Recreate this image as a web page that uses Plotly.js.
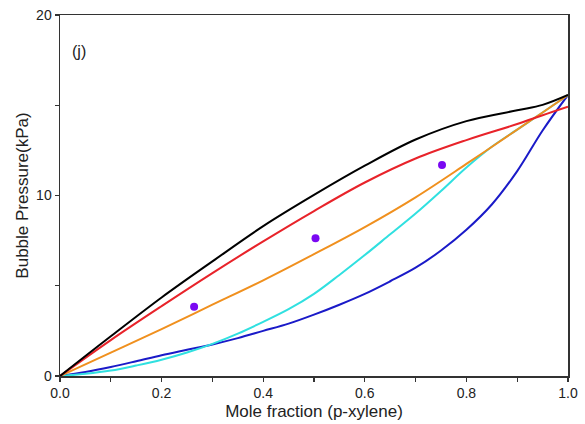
<!DOCTYPE html>
<html>
<head>
<meta charset="utf-8">
<script src="https://cdn.plot.ly/plotly-3.0.1.min.js"></script>
<style>html,body{margin:0;padding:0;background:#fff;}#chart{width:585px;height:424px;}</style>
</head>
<body>
<div id="chart"></div>
<script>
// Model curves (bubble pressure, kPa) vs mole fraction of p-xylene
const xCoarse = [0, 0.1, 0.2, 0.3, 0.4, 0.5, 0.6, 0.7, 0.8, 0.9, 0.95, 1.0];
const blackY  = [0, 2.2, 4.35, 6.35, 8.3, 10.03, 11.65, 13.1, 14.12, 14.72, 15.02, 15.57];
const redY    = [0, 1.99, 3.87, 5.7, 7.46, 9.14, 10.72, 12.05, 13.07, 13.96, 14.45, 14.92];
const orangeY = [0, 1.3, 2.6, 3.95, 5.3, 6.75, 8.25, 9.9, 11.75, 13.65, 14.6, 15.57];

const xFine   = [0, 0.05, 0.1, 0.15, 0.2, 0.25, 0.3, 0.35, 0.4, 0.45, 0.5, 0.55, 0.6, 0.65, 0.7, 0.75, 0.8, 0.85, 0.9, 0.95, 1.0];
const cyanY   = [0, 0.12, 0.3, 0.58, 0.9, 1.3, 1.78, 2.35, 3.0, 3.7, 4.55, 5.6, 6.7, 7.85, 9.0, 10.25, 11.55, 12.7, 13.65, 14.6, 15.57];
const blueY   = [0, 0.22, 0.5, 0.82, 1.15, 1.45, 1.75, 2.1, 2.5, 2.9, 3.4, 3.95, 4.55, 5.25, 6.0, 6.95, 8.1, 9.5, 11.35, 13.6, 15.57];

// Experimental points
const expX = [0.264, 0.503, 0.752];
const expY = [3.84, 7.63, 11.69];

const lineTrace = (x, y, color) => ({
  x: x, y: y, type: 'scatter', mode: 'lines',
  line: {color: color, width: 2, shape: 'spline', smoothing: 1},
  hoverinfo: 'skip', showlegend: false
});

const data = [
  lineTrace(xFine, blueY, '#1a1ac8'),
  lineTrace(xFine, cyanY, '#30e0e0'),
  lineTrace(xCoarse, orangeY, '#f0901e'),
  lineTrace(xCoarse, redY, '#e8232a'),
  lineTrace(xCoarse, blackY, '#000000'),
  {x: expX, y: expY, type: 'scatter', mode: 'markers',
   marker: {color: '#7a08f2', size: 8}, showlegend: false}
];

const font = 'Arial, "Liberation Sans", sans-serif';
const layout = {
  width: 585, height: 424,
  margin: {l: 60, r: 17, t: 15, b: 48},
  paper_bgcolor: '#ffffff', plot_bgcolor: '#ffffff',
  font: {family: font, color: '#222', size: 14},
  showlegend: false,
  xaxis: {
    range: [0, 1.0], showgrid: false, zeroline: false,
    showline: true, linecolor: '#333', linewidth: 1.5, mirror: true,
    ticks: 'outside', ticklen: 4, tickwidth: 1.2, tickcolor: '#333',
    tickvals: [0, 0.2, 0.4, 0.6, 0.8, 1.0],
    ticktext: ['0.0', '0.2', '0.4', '0.6', '0.8', '1.0'],
    minor: {tickvals: [0.1, 0.3, 0.5, 0.7, 0.9], ticks: 'outside', ticklen: 4, tickwidth: 1.2, tickcolor: '#333'},
    tickfont: {size: 14, family: font, color: '#222'},
    title: {text: 'Mole fraction (p-xylene)', font: {size: 17, family: font, color: '#222'}, standoff: 5}
  },
  yaxis: {
    range: [0, 20], showgrid: false, zeroline: false,
    showline: true, linecolor: '#333', linewidth: 1.5, mirror: true,
    ticks: 'outside', ticklen: 4, tickwidth: 1.2, tickcolor: '#333',
    tickvals: [0, 10, 20],
    minor: {tickvals: [5, 15], ticks: 'outside', ticklen: 4, tickwidth: 1.2, tickcolor: '#333'},
    tickfont: {size: 14, family: font, color: '#222'},
    title: {text: 'Bubble Pressure(kPa)', font: {size: 17, family: font, color: '#222'}, standoff: 3}
  },
  annotations: [{
    text: '(j)', xref: 'paper', yref: 'paper', x: 0.037, y: 0.9, xanchor: 'center', yanchor: 'middle',
    showarrow: false, font: {size: 16, family: font, color: '#222'}
  }]
};

Plotly.newPlot('chart', data, layout, {displayModeBar: false, staticPlot: true});
</script>
</body>
</html>
